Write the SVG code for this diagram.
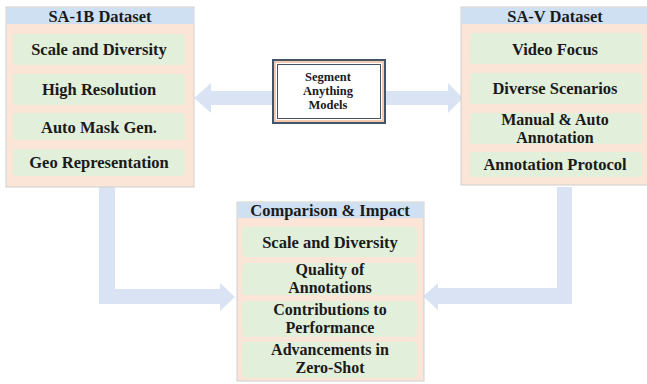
<svg xmlns="http://www.w3.org/2000/svg" width="647" height="384" viewBox="0 0 647 384">
<style>
.panel{fill:#fbe5d6;stroke:#cfcfcf;stroke-width:1}
.hdr{fill:#cfe0f2}
.item{fill:#e2efda}
.arrow{fill:#dae3f3}
text{font-family:"Liberation Serif","DejaVu Serif",serif;font-weight:bold;fill:#1a1a1a;text-anchor:middle}
.t{font-size:16.5px}
.m{font-size:16px}
.h{font-size:16.5px}
.s{font-size:12.5px}
</style>
<rect width="647" height="384" fill="#ffffff"/>
<g id="connectors">
<path class="arrow" d="M272,91 L211,91 L211,83 L194,98 L211,113 L211,105 L272,105 Z"/>
<path class="arrow" d="M386,91 L448,91 L448,83 L463,98 L448,113 L448,105 L386,105 Z"/>
<path class="arrow" d="M99,187 L115,187 L115,289 L220,289 L220,283 L235,297 L220,311 L220,304 L99,304 Z"/>
<path class="arrow" d="M572,187 L557,187 L557,288 L438,288 L438,283 L423,296.5 L438,310 L438,304 L572,304 Z"/>
</g>
<g id="sa1b">
<rect class="panel" x="6" y="7" width="188" height="180"/>
<rect class="hdr" x="6.5" y="7.5" width="187" height="16.5"/>
<text class="h" x="100" y="21.5">SA-1B Dataset</text>
<rect class="item" x="13" y="34" width="172" height="31" rx="4"/>
<text class="t" x="99" y="55">Scale and Diversity</text>
<rect class="item" x="13" y="74" width="172" height="31" rx="4"/>
<text class="t" x="99" y="95">High Resolution</text>
<rect class="item" x="13" y="113" width="172" height="27" rx="4"/>
<text class="t" x="99" y="132.5">Auto Mask Gen.</text>
<rect class="item" x="13" y="149" width="172" height="27" rx="4"/>
<text class="t" x="99" y="168">Geo Representation</text>
</g>
<g id="sav">
<rect class="panel" x="461" y="7" width="190" height="178"/>
<rect class="hdr" x="461.5" y="7.5" width="189" height="16.5"/>
<text class="h" x="555" y="21.5">SA-V Dataset</text>
<rect class="item" x="470" y="33" width="172" height="31" rx="4"/>
<text class="t" x="555" y="55">Video Focus</text>
<rect class="item" x="470" y="73" width="172" height="31" rx="4"/>
<text class="t" x="555" y="94">Diverse Scenarios</text>
<rect class="item" x="470" y="113" width="172" height="31" rx="4"/>
<text class="m" x="555" y="124.5">Manual &amp; Auto</text>
<text class="m" x="555" y="142.5">Annotation</text>
<rect class="item" x="470" y="152" width="172" height="25" rx="4"/>
<text class="t" x="555" y="170">Annotation Protocol</text>
</g>
<g id="sam">
<rect x="273" y="60" width="112" height="63" fill="#ffffff" stroke="#44546a" stroke-width="2"/>
<rect x="275" y="62" width="108" height="59" fill="none" stroke="#f4cbb0" stroke-width="2"/>
<rect x="277.5" y="64.5" width="103" height="54" fill="#ffffff" stroke="#44546a" stroke-width="1"/>
<text class="s" x="328" y="81">Segment</text>
<text class="s" x="328" y="95">Anything</text>
<text class="s" x="328" y="109">Models</text>
</g>
<g id="comparison">
<rect class="panel" x="237" y="202" width="187" height="179"/>
<rect class="hdr" x="237.5" y="202.5" width="186" height="15.5"/>
<text class="h" x="330" y="216">Comparison &amp; Impact</text>
<rect class="item" x="242" y="227" width="175" height="30" rx="4"/>
<text class="t" x="330" y="248">Scale and Diversity</text>
<rect class="item" x="242" y="263" width="175" height="32" rx="4"/>
<text class="m" x="330" y="275">Quality of</text>
<text class="m" x="330" y="293">Annotations</text>
<rect class="item" x="242" y="301" width="175" height="36" rx="4"/>
<text class="m" x="330" y="315">Contributions to</text>
<text class="m" x="330" y="333">Performance</text>
<rect class="item" x="242" y="342" width="175" height="36" rx="4"/>
<text class="m" x="330" y="355">Advancements in</text>
<text class="m" x="330" y="373">Zero-Shot</text>
</g>
</svg>
